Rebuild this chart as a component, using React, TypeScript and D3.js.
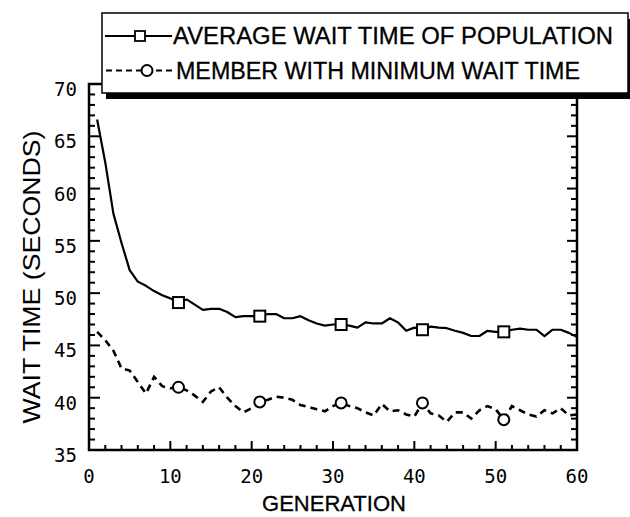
import React, { useRef, useEffect } from 'react';
import * as d3 from 'd3';

// values, one per generation (1..60)
const avgWait = [
  66.6, 62.5, 57.6, 54.8, 52.2, 51.1, 50.7, 50.2, 49.8, 49.5,
  49.1, 49.4, 48.9, 48.4, 48.5, 48.5, 48.2, 47.7, 47.8, 47.8,
  47.8, 48.0, 48.0, 47.6, 47.6, 47.8, 47.4, 47.1, 46.9, 47.0,
  47.0, 46.9, 46.7, 47.2, 47.1, 47.1, 47.6, 47.2, 46.4, 46.7,
  46.5, 46.8, 46.7, 46.65, 46.4, 46.2, 45.9, 45.9, 46.4, 46.3,
  46.3, 46.5, 46.6, 46.5, 46.5, 45.9, 46.5, 46.5, 46.2, 45.8,
];
const minWait = [
  46.3, 45.5, 44.5, 42.8, 42.6, 41.5, 40.4, 42.0, 41.1, 40.9,
  41.0, 40.7, 40.2, 39.6, 40.6, 41.0, 40.0, 39.2, 38.6, 39.0,
  39.6, 39.8, 40.1, 40.0, 39.8, 39.3, 39.1, 38.9, 38.7, 39.2,
  39.5, 39.2, 39.0, 38.6, 38.3, 39.4, 38.7, 38.8, 38.4, 38.2,
  39.5, 38.5, 38.3, 37.7, 38.6, 38.6, 38.0, 38.8, 39.2, 38.9,
  37.9, 39.2, 38.8, 38.4, 38.2, 38.8, 38.5, 39.0, 38.3, 38.4,
];
const markerGens = [11, 21, 31, 41, 51];
const xTicks = [0, 10, 20, 30, 40, 50, 60];
const yTicks = [35, 40, 45, 50, 55, 60, 65, 70];
const legendLabels = ['AVERAGE WAIT TIME OF POPULATION', 'MEMBER WITH MINIMUM WAIT TIME'];

const W = 630;
const H = 517;

export default function App() {
  const ref = useRef<SVGSVGElement | null>(null);

  useEffect(() => {
    if (!ref.current) return;
    const svg = d3.select(ref.current);
    svg.selectAll('*').remove();

    const x = d3.scaleLinear().domain([0, 60]).range([89, 577]);
    const y = d3.scaleLinear().domain([35, 70]).range([450, 84]);

    const sans = 'Liberation Sans, Arial, sans-serif';
    const mono = 'DejaVu Sans Mono, monospace';

    // frame
    svg.append('rect')
      .attr('x', x(0)).attr('y', y(70))
      .attr('width', x(60) - x(0)).attr('height', y(35) - y(70))
      .attr('fill', 'none').attr('stroke', '#000').attr('stroke-width', 2.5);

    // x ticks (inward, bottom)
    const xMinor = d3.range(0, 61, 2);
    svg.append('g').selectAll('line').data(xMinor).join('line')
      .attr('x1', d => x(d)).attr('x2', d => x(d))
      .attr('y1', y(35)).attr('y2', d => y(35) - (d % 10 === 0 ? 9 : 5))
      .attr('stroke', '#000').attr('stroke-width', 2);

    // y ticks left and right (inward)
    const yMinor = d3.range(35, 71, 1);
    svg.append('g').selectAll('line').data(yMinor).join('line')
      .attr('x1', x(0)).attr('x2', d => x(0) + (d % 5 === 0 ? 11 : 6))
      .attr('y1', d => y(d)).attr('y2', d => y(d))
      .attr('stroke', '#000').attr('stroke-width', 2);
    svg.append('g').selectAll('line').data(yMinor).join('line')
      .attr('x1', x(60)).attr('x2', d => x(60) - (d % 5 === 0 ? 10 : 6))
      .attr('y1', d => y(d)).attr('y2', d => y(d))
      .attr('stroke', '#000').attr('stroke-width', 2);

    // tick labels
    svg.append('g').selectAll('text').data(xTicks).join('text')
      .attr('x', d => x(d)).attr('y', 483)
      .attr('text-anchor', 'middle')
      .style('font-family', mono).style('font-size', '19px')
      .text(d => d);
    svg.append('g').selectAll('text').data(yTicks).join('text')
      .attr('x', 77).attr('y', d => y(d) + 5)
      .attr('text-anchor', 'end').attr('dominant-baseline', 'central')
      .style('font-family', mono).style('font-size', '19px')
      .text(d => d);

    // axis titles
    svg.append('text')
      .attr('x', 334).attr('y', 511)
      .attr('text-anchor', 'middle')
      .attr('stroke', '#000').attr('stroke-width', 0.3)
      .style('font-family', sans).style('font-size', '22px')
      .text('GENERATION');
    svg.append('text')
      .attr('transform', 'translate(40,277) rotate(-90)')
      .attr('text-anchor', 'middle')
      .attr('textLength', 293).attr('lengthAdjust', 'spacingAndGlyphs')
      .style('font-family', sans).style('font-size', '24px')
      .text('WAIT TIME (SECONDS)');

    // lines
    const line = d3.line<number>()
      .x((_, i) => x(i + 1))
      .y(d => y(d));

    svg.append('path')
      .datum(avgWait)
      .attr('fill', 'none').attr('stroke', '#000').attr('stroke-width', 2.2)
      .attr('stroke-linejoin', 'round')
      .attr('d', line);
    svg.append('path')
      .datum(minWait)
      .attr('fill', 'none').attr('stroke', '#000').attr('stroke-width', 2.6)
      .attr('stroke-dasharray', '7 5')
      .attr('d', line);

    // markers
    svg.append('g').selectAll('rect').data(markerGens).join('rect')
      .attr('x', d => x(d) - 5.5).attr('y', d => y(avgWait[d - 1]) - 5.5)
      .attr('width', 11).attr('height', 11)
      .attr('fill', '#fff').attr('stroke', '#000').attr('stroke-width', 2);
    svg.append('g').selectAll('circle').data(markerGens).join('circle')
      .attr('cx', d => x(d)).attr('cy', d => y(minWait[d - 1]))
      .attr('r', 5.5)
      .attr('fill', '#fff').attr('stroke', '#000').attr('stroke-width', 2);

    // legend box with drop shadow
    const lg = svg.append('g');
    lg.append('rect')
      .attr('x', 106).attr('y', 19).attr('width', 526).attr('height', 80)
      .attr('fill', '#000');
    lg.append('rect')
      .attr('x', 102).attr('y', 13).attr('width', 526).attr('height', 80)
      .attr('fill', '#fff').attr('stroke', '#000').attr('stroke-width', 1.5);

    const rows = [44, 78.5];
    const textLens = [440, 404];
    lg.append('line')
      .attr('x1', 105).attr('x2', 172).attr('y1', rows[0] - 8).attr('y2', rows[0] - 8)
      .attr('stroke', '#000').attr('stroke-width', 2);
    lg.append('rect')
      .attr('x', 135).attr('y', rows[0] - 13).attr('width', 10).attr('height', 10)
      .attr('fill', '#fff').attr('stroke', '#000').attr('stroke-width', 1.8);
    lg.append('line')
      .attr('x1', 106).attr('x2', 172).attr('y1', rows[1] - 8).attr('y2', rows[1] - 8)
      .attr('stroke', '#000').attr('stroke-width', 2.2).attr('stroke-dasharray', '6 4');
    lg.append('circle')
      .attr('cx', 147).attr('cy', rows[1] - 8).attr('r', 5.5)
      .attr('fill', '#fff').attr('stroke', '#000').attr('stroke-width', 2);

    lg.selectAll('text.lab').data(legendLabels).join('text')
      .attr('class', 'lab')
      .attr('x', (_, i) => (i === 0 ? 173 : 176))
      .attr('y', (_, i) => rows[i])
      .attr('textLength', (_, i) => textLens[i]).attr('lengthAdjust', 'spacingAndGlyphs')
      .attr('stroke', '#000').attr('stroke-width', 0.3)
      .style('font-family', sans).style('font-size', '23px')
      .text(d => d);
  }, []);

  return (
    <svg
      ref={ref}
      width={W}
      height={H}
      style={{ position: 'absolute', left: 0, top: 0, background: '#fff' }}
    />
  );
}
